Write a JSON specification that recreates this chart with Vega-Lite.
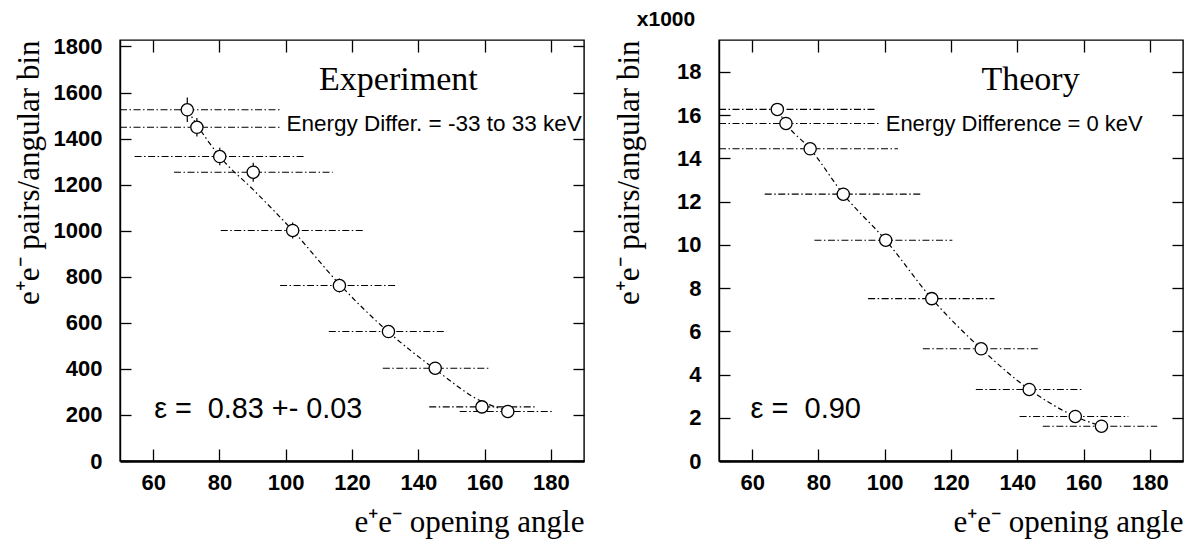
{
  "$schema": "https://vega.github.io/schema/vega-lite/v6.json",
  "background": "white",
  "padding": {"left": 12, "top": 8, "right": 4, "bottom": 2},
  "spacing": 135,
  "bounds": "flush",
  "config": {
    "view": {"stroke": "black", "strokeWidth": 1.4},
    "axis": {"grid": false, "tickColor": "black", "domainColor": "black", "labelColor": "black", "titleColor": "black"}
  },
  "datasets": {
    "exp": [
      {"angle": 70.3, "count": 1525, "ylo": 1472, "yhi": 1578, "lo": 50, "hi": 98.3, "fit": 1525},
      {"angle": 73.2, "count": 1449, "ylo": 1409, "yhi": 1489, "lo": 50, "hi": 98.6, "fit": 1460},
      {"angle": 80.1, "count": 1322, "ylo": 1284, "yhi": 1360, "lo": 54.4, "hi": 105.8, "fit": 1322},
      {"angle": 90.2, "count": 1254, "ylo": 1213, "yhi": 1295, "lo": 66.3, "hi": 114.2, "fit": 1178},
      {"angle": 102.1, "count": 1001, "ylo": 966, "yhi": 1036, "lo": 80.4, "hi": 123.7, "fit": 1001},
      {"angle": 116.2, "count": 762, "ylo": 732, "yhi": 792, "lo": 98.3, "hi": 133.5, "fit": 768},
      {"angle": 131.0, "count": 562, "ylo": 537, "yhi": 587, "lo": 113.0, "hi": 148.5, "fit": 560},
      {"angle": 145.1, "count": 403, "ylo": 383, "yhi": 423, "lo": 129.3, "hi": 161.3, "fit": 398},
      {"angle": 159.2, "count": 235, "ylo": 220, "yhi": 250, "lo": 143.3, "hi": 175.1, "fit": 258},
      {"angle": 167.0, "count": 215, "ylo": 200, "yhi": 230, "lo": 152.5, "hi": 180.4, "fit": 218}
    ],
    "theo": [
      {"angle": 67.6, "count": 16.26, "lo": 50, "hi": 97.7, "fit": 16.26},
      {"angle": 70.2, "count": 15.61, "lo": 50, "hi": 98.8, "fit": 15.61},
      {"angle": 77.5, "count": 14.44, "lo": 50, "hi": 104.0, "fit": 14.44},
      {"angle": 87.5, "count": 12.34, "lo": 63.8, "hi": 111.2, "fit": 12.34},
      {"angle": 100.3, "count": 10.21, "lo": 78.8, "hi": 120.4, "fit": 10.21},
      {"angle": 114.2, "count": 7.51, "lo": 95.0, "hi": 133.1, "fit": 7.51},
      {"angle": 129.1, "count": 5.19, "lo": 111.5, "hi": 146.5, "fit": 5.19},
      {"angle": 143.6, "count": 3.31, "lo": 127.5, "hi": 160.0, "fit": 3.31},
      {"angle": 157.5, "count": 2.06, "lo": 140.7, "hi": 173.5, "fit": 2.06},
      {"angle": 165.4, "count": 1.61, "lo": 147.7, "hi": 182.2, "fit": 1.61}
    ]
  },
  "hconcat": [
    {
      "width": 464,
      "height": 421,
      "resolve": {"axis": {"x": "independent", "y": "independent"}},
      "layer": [
        {
          "data": {"name": "exp"},
          "mark": {"type": "rule", "color": "black", "strokeWidth": 1.1, "strokeDash": [7, 2.5, 1.5, 2.5]},
          "encoding": {
            "x": {"field": "lo", "type": "quantitative", "scale": {"domain": [50, 190], "nice": false, "zero": false},
              "axis": {"orient": "bottom", "values": [60, 80, 100, 120, 140, 160, 180], "format": "d", "tickSize": -12, "tickWidth": 1.3,
                "labelPadding": 23, "labelFont": "Liberation Sans", "labelFontWeight": "bold", "labelFontSize": 22,
                "domainWidth": 2.4, "title": "e⁺e⁻ opening angle", "titleFont": "Liberation Serif", "titleFontWeight": "normal",
                "titleFontSize": 31, "titleAnchor": "end", "titleY": 70, "titleBaseline": "alphabetic"}},
            "x2": {"field": "hi"},
            "y": {"field": "count", "type": "quantitative", "scale": {"domain": [0, 1828], "nice": false},
              "axis": {"orient": "left", "values": [0, 200, 400, 600, 800, 1000, 1200, 1400, 1600, 1800], "format": "d", "tickSize": -11, "tickWidth": 1.3,
                "labelPadding": 29, "labelFont": "Liberation Sans", "labelFontWeight": "bold", "labelFontSize": 22,
                "domainWidth": 1.4, "title": "e⁺e⁻ pairs/angular bin", "titleFont": "Liberation Serif", "titleFontWeight": "normal",
                "titleFontSize": 31, "titleAnchor": "end", "titleX": -82, "titleBaseline": "alphabetic"}}
          }
        },
        {
          "data": {"name": "exp"},
          "mark": {"type": "line", "color": "black", "strokeWidth": 1.2, "strokeDash": [5, 3, 1.5, 3], "interpolate": "monotone"},
          "encoding": {
            "x": {"field": "angle", "type": "quantitative", "scale": {"domain": [50, 190], "nice": false, "zero": false},
              "axis": {"orient": "top", "values": [60, 80, 100, 120, 140, 160, 180], "tickSize": -12, "tickWidth": 1.3, "labels": false, "domain": false, "title": null}},
            "y": {"field": "fit", "type": "quantitative", "scale": {"domain": [0, 1828], "nice": false},
              "axis": {"orient": "right", "values": [0, 200, 400, 600, 800, 1000, 1200, 1400, 1600, 1800], "tickSize": -11, "tickWidth": 1.3, "labels": false, "domain": false, "title": null}}
          }
        },
        {
          "data": {"name": "exp"},
          "mark": {"type": "rule", "color": "black", "strokeWidth": 1.2},
          "encoding": {
            "x": {"field": "angle", "type": "quantitative", "scale": {"domain": [50, 190], "nice": false, "zero": false}, "axis": null},
            "y": {"field": "ylo", "type": "quantitative", "scale": {"domain": [0, 1828], "nice": false}, "axis": null},
            "y2": {"field": "yhi"}
          }
        },
        {
          "data": {"name": "exp"},
          "mark": {"type": "point", "shape": "circle", "filled": false, "fill": "white", "fillOpacity": 1, "stroke": "black", "strokeWidth": 1.3, "size": 150, "opacity": 1},
          "encoding": {
            "x": {"field": "angle", "type": "quantitative", "scale": {"domain": [50, 190], "nice": false, "zero": false}, "axis": null},
            "y": {"field": "count", "type": "quantitative", "scale": {"domain": [0, 1828], "nice": false}, "axis": null}
          }
        },
        {
          "data": {"values": [{"angle": 134, "count": 1610, "label": "Experiment"}]},
          "mark": {"type": "text", "font": "Liberation Serif", "fontSize": 34, "align": "center", "baseline": "alphabetic", "color": "black"},
          "encoding": {
            "x": {"field": "angle", "type": "quantitative", "scale": {"domain": [50, 190], "nice": false, "zero": false}, "axis": null},
            "y": {"field": "count", "type": "quantitative", "scale": {"domain": [0, 1828], "nice": false}, "axis": null},
            "text": {"field": "label"}
          }
        },
        {
          "data": {"values": [{"angle": 100.2, "count": 1431, "label": "Energy Differ. = -33 to 33 keV"}]},
          "mark": {"type": "text", "font": "Liberation Sans", "fontSize": 22.5, "align": "left", "baseline": "alphabetic", "color": "black"},
          "encoding": {
            "x": {"field": "angle", "type": "quantitative", "scale": {"domain": [50, 190], "nice": false, "zero": false}, "axis": null},
            "y": {"field": "count", "type": "quantitative", "scale": {"domain": [0, 1828], "nice": false}, "axis": null},
            "text": {"field": "label"}
          }
        },
        {
          "data": {"values": [{"angle": 60.3, "count": 185, "label": "ε = \u00a00.83 +- 0.03"}]},
          "mark": {"type": "text", "font": "Liberation Sans", "fontSize": 28.8, "align": "left", "baseline": "alphabetic", "color": "black"},
          "encoding": {
            "x": {"field": "angle", "type": "quantitative", "scale": {"domain": [50, 190], "nice": false, "zero": false}, "axis": null},
            "y": {"field": "count", "type": "quantitative", "scale": {"domain": [0, 1828], "nice": false}, "axis": null},
            "text": {"field": "label"}
          }
        }
      ]
    },
    {
      "width": 464,
      "height": 421,
      "resolve": {"axis": {"x": "independent", "y": "independent"}},
      "layer": [
        {
          "data": {"name": "theo"},
          "mark": {"type": "rule", "color": "black", "strokeWidth": 1.1, "strokeDash": [7, 2.5, 1.5, 2.5]},
          "encoding": {
            "x": {"field": "lo", "type": "quantitative", "scale": {"domain": [50, 190], "nice": false, "zero": false},
              "axis": {"orient": "bottom", "values": [60, 80, 100, 120, 140, 160, 180], "format": "d", "tickSize": -12, "tickWidth": 1.3,
                "labelPadding": 23, "labelFont": "Liberation Sans", "labelFontWeight": "bold", "labelFontSize": 22,
                "domainWidth": 2.4, "title": "e⁺e⁻ opening angle", "titleFont": "Liberation Serif", "titleFontWeight": "normal",
                "titleFontSize": 31, "titleAnchor": "end", "titleY": 70, "titleBaseline": "alphabetic"}},
            "x2": {"field": "hi"},
            "y": {"field": "count", "type": "quantitative", "scale": {"domain": [0, 19.47], "nice": false},
              "axis": {"orient": "left", "values": [0, 2, 4, 6, 8, 10, 12, 14, 16, 18], "format": "d", "tickSize": -11, "tickWidth": 1.3,
                "labelPadding": 29, "labelFont": "Liberation Sans", "labelFontWeight": "bold", "labelFontSize": 22,
                "domainWidth": 1.4, "title": "e⁺e⁻ pairs/angular bin", "titleFont": "Liberation Serif", "titleFontWeight": "normal",
                "titleFontSize": 31, "titleAnchor": "end", "titleX": -81, "titleBaseline": "alphabetic"}}
          }
        },
        {
          "data": {"name": "theo"},
          "mark": {"type": "line", "color": "black", "strokeWidth": 1.2, "strokeDash": [5, 3, 1.5, 3], "interpolate": "monotone"},
          "encoding": {
            "x": {"field": "angle", "type": "quantitative", "scale": {"domain": [50, 190], "nice": false, "zero": false},
              "axis": {"orient": "top", "values": [60, 80, 100, 120, 140, 160, 180], "tickSize": -12, "tickWidth": 1.3, "labels": false, "domain": false, "title": null}},
            "y": {"field": "fit", "type": "quantitative", "scale": {"domain": [0, 19.47], "nice": false},
              "axis": {"orient": "right", "values": [0, 2, 4, 6, 8, 10, 12, 14, 16, 18], "tickSize": -11, "tickWidth": 1.3, "labels": false, "domain": false, "title": null}}
          }
        },
        {
          "data": {"name": "theo"},
          "mark": {"type": "point", "shape": "circle", "filled": false, "fill": "white", "fillOpacity": 1, "stroke": "black", "strokeWidth": 1.3, "size": 150, "opacity": 1},
          "encoding": {
            "x": {"field": "angle", "type": "quantitative", "scale": {"domain": [50, 190], "nice": false, "zero": false}, "axis": null},
            "y": {"field": "count", "type": "quantitative", "scale": {"domain": [0, 19.47], "nice": false}, "axis": null}
          }
        },
        {
          "data": {"values": [{"angle": 144, "count": 17.15, "label": "Theory"}]},
          "mark": {"type": "text", "font": "Liberation Serif", "fontSize": 34, "align": "center", "baseline": "alphabetic", "color": "black"},
          "encoding": {
            "x": {"field": "angle", "type": "quantitative", "scale": {"domain": [50, 190], "nice": false, "zero": false}, "axis": null},
            "y": {"field": "count", "type": "quantitative", "scale": {"domain": [0, 19.47], "nice": false}, "axis": null},
            "text": {"field": "label"}
          }
        },
        {
          "data": {"values": [{"angle": 100.3, "count": 15.25, "label": "Energy Difference = 0 keV"}]},
          "mark": {"type": "text", "font": "Liberation Sans", "fontSize": 22, "align": "left", "baseline": "alphabetic", "color": "black"},
          "encoding": {
            "x": {"field": "angle", "type": "quantitative", "scale": {"domain": [50, 190], "nice": false, "zero": false}, "axis": null},
            "y": {"field": "count", "type": "quantitative", "scale": {"domain": [0, 19.47], "nice": false}, "axis": null},
            "text": {"field": "label"}
          }
        },
        {
          "data": {"values": [{"angle": 59.5, "count": 1.97, "label": "ε = \u00a00.90"}]},
          "mark": {"type": "text", "font": "Liberation Sans", "fontSize": 29, "align": "left", "baseline": "alphabetic", "color": "black"},
          "encoding": {
            "x": {"field": "angle", "type": "quantitative", "scale": {"domain": [50, 190], "nice": false, "zero": false}, "axis": null},
            "y": {"field": "count", "type": "quantitative", "scale": {"domain": [0, 19.47], "nice": false}, "axis": null},
            "text": {"field": "label"}
          }
        },
        {
          "data": {"values": [{"angle": 25.2, "count": 20.12, "label": "x1000"}]},
          "mark": {"type": "text", "font": "Liberation Sans", "fontSize": 21, "fontWeight": "bold", "align": "left", "baseline": "alphabetic", "color": "black"},
          "encoding": {
            "x": {"field": "angle", "type": "quantitative", "scale": {"domain": [50, 190], "nice": false, "zero": false}, "axis": null},
            "y": {"field": "count", "type": "quantitative", "scale": {"domain": [0, 19.47], "nice": false}, "axis": null},
            "text": {"field": "label"}
          }
        }
      ]
    }
  ]
}
